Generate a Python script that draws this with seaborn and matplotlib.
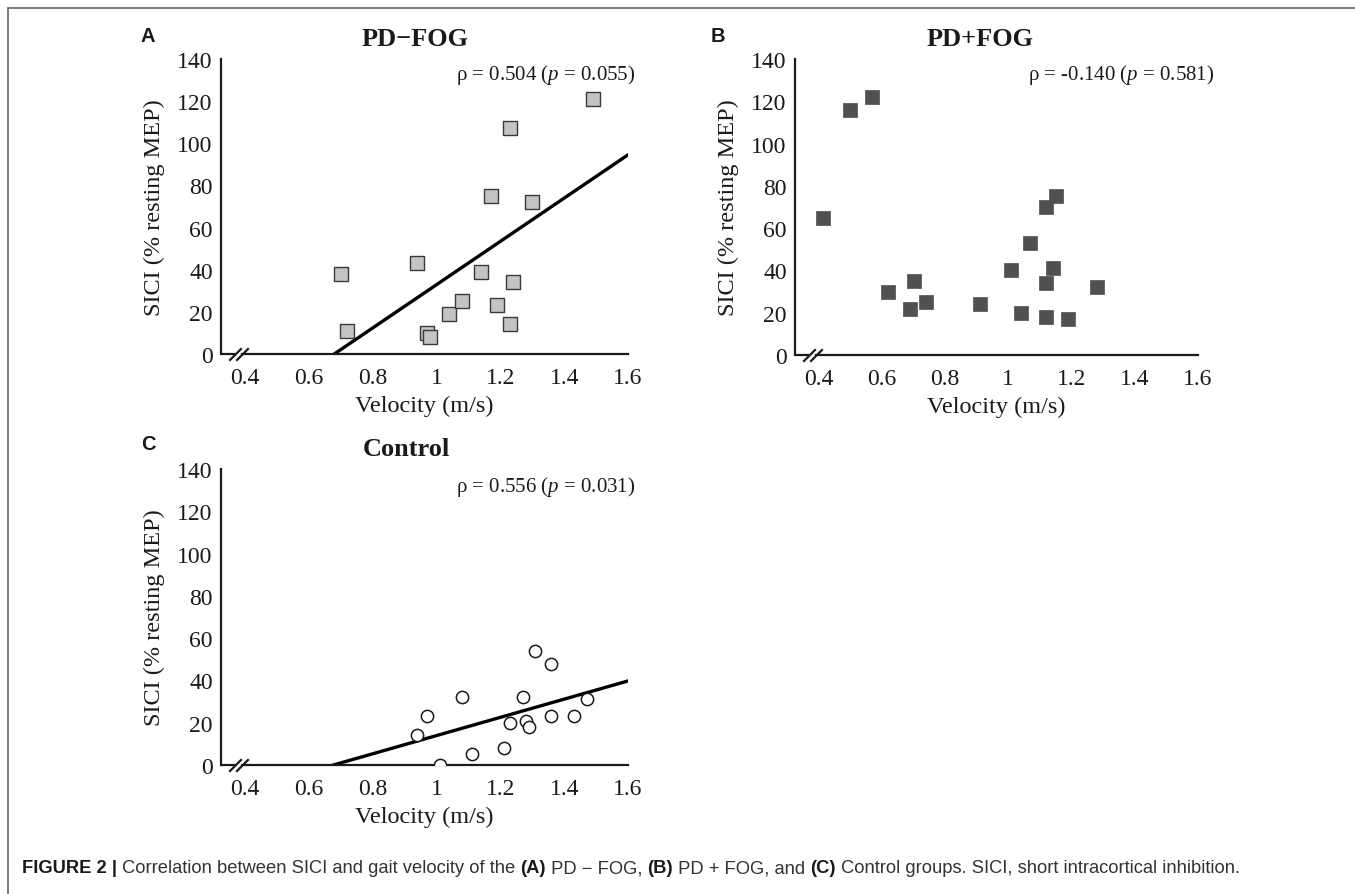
import matplotlib
matplotlib.use("Agg")
import matplotlib.pyplot as plt
from matplotlib.lines import Line2D
import pandas as pd
import seaborn as sns

# Valores (velocidade em m/s, SICI em % do MEP de repouso)
pd_sem_fog_vel = [0.70, 0.72, 0.94, 0.97, 0.98, 1.04, 1.08, 1.14, 1.17, 1.19, 1.23, 1.23, 1.24, 1.30, 1.49]
pd_sem_fog_sici = [38, 11, 43, 10, 8, 19, 25, 39, 75, 23, 107, 14, 34, 72, 121]

pd_com_fog_vel = [0.415, 0.50, 0.57, 0.62, 0.69, 0.70, 0.74, 0.91, 1.01, 1.04, 1.07, 1.12, 1.12, 1.12, 1.14, 1.15, 1.19, 1.28]
pd_com_fog_sici = [65, 116, 122, 30, 22, 35, 25, 24, 40, 20, 53, 70, 34, 18, 41, 75, 17, 32]

controle_vel = [0.94, 0.97, 1.01, 1.08, 1.11, 1.21, 1.23, 1.27, 1.28, 1.29, 1.31, 1.36, 1.36, 1.43, 1.47]
controle_sici = [14, 23, 0, 32, 5, 8, 20, 32, 21, 18, 54, 48, 23, 23, 31]

x_ticks = [0.4, 0.6, 0.8, 1.0, 1.2, 1.4, 1.6]
x_ticklabels = ["0.4", "0.6", "0.8", "1", "1.2", "1.4", "1.6"]
y_ticks = [0, 20, 40, 60, 80, 100, 120, 140]

titulos = ["PD\u2212FOG", "PD+FOG", "Control"]
letras = ["A", "B", "C"]
estatisticas = [r"ρ = 0.504 ($p$ = 0.055)", r"ρ = -0.140 ($p$ = 0.581)", r"ρ = 0.556 ($p$ = 0.031)"]

legenda = [("FIGURE 2 |", True),
           (" Correlation between SICI and gait velocity of the ", False),
           ("(A)", True), (" PD \u2212 FOG, ", False),
           ("(B)", True), (" PD + FOG, and ", False),
           ("(C)", True), (" Control groups. SICI, short intracortical inhibition.", False)]

sns.set_theme(style="white")
plt.rcParams['font.family'] = ['Liberation Serif', 'DejaVu Serif']
plt.rcParams['mathtext.fontset'] = 'custom'
plt.rcParams['mathtext.rm'] = 'Liberation Serif'
plt.rcParams['mathtext.it'] = 'Liberation Serif:italic'
plt.rcParams['text.color'] = '#1a1a1a'

COR = '#1a1a1a'
XMIN, XMAX = 0.325, 1.6


def preparar_eixo(ax):
    ax.set_xlim(XMIN, XMAX)
    ax.set_ylim(0, 140)


def formatar_eixo(ax, titulo, letra, estat, tx, sx, sy, lx, ly):
    ax.set_xlim(XMIN, XMAX)
    ax.set_ylim(0, 140)
    sns.despine(ax=ax)
    for lado in ['left', 'bottom']:
        ax.spines[lado].set_linewidth(1.6)
        ax.spines[lado].set_color(COR)
    # quebra do eixo x
    ax.spines['bottom'].set_bounds(0.392, XMAX)
    ax.plot([XMIN, 0.368], [0, 0], color=COR, lw=1.6, clip_on=False, solid_capstyle='butt')
    ax.plot([0.368, 0.392], [0, 0], linestyle='none', marker=[(-1, -1), (1, 1)],
            markersize=9, mew=1.6, color=COR, clip_on=False)
    ax.set_xticks(x_ticks)
    ax.set_xticklabels(x_ticklabels)
    ax.set_yticks(y_ticks)
    ax.tick_params(direction='in', length=5, width=1.4, color=COR, labelsize=17,
                   labelcolor=COR, pad=6)
    ax.tick_params(axis='x', pad=9.5)
    ax.xaxis.get_major_ticks()[0].tick1line.set_visible(False)
    ax.set_xlabel("Velocity (m/s)", fontsize=17.5, labelpad=5, color=COR)
    ax.set_ylabel("SICI (% resting MEP)", fontsize=17.5, labelpad=9, color=COR)
    ax.set_title(titulo, fontsize=19, fontweight='bold', x=tx, pad=10, color=COR)
    ax.text(sx, sy, estat, transform=ax.transAxes, ha='right', va='center', fontsize=15)
    ax.figure.text(lx, ly, letra, family='Liberation Sans', fontweight='bold',
                   fontsize=14.5, ha='center', va='center')


fig = plt.figure(figsize=(13.55, 8.95), dpi=100)
ax_a = fig.add_axes([0.1631, 0.6034, 0.3004, 0.3296])
ax_b = fig.add_axes([0.5867, 0.6022, 0.2974, 0.3307])
ax_c = fig.add_axes([0.1631, 0.1441, 0.3004, 0.3307])

dados_a = pd.DataFrame({'vel': pd_sem_fog_vel, 'sici': pd_sem_fog_sici})
dados_b = pd.DataFrame({'vel': pd_com_fog_vel, 'sici': pd_com_fog_sici})
dados_c = pd.DataFrame({'vel': controle_vel, 'sici': controle_sici})

# Painel A
preparar_eixo(ax_a)
sns.regplot(data=dados_a, x='vel', y='sici', ax=ax_a, ci=None, truncate=False, marker='s',
            scatter_kws=dict(s=90, facecolor='#c4c4c4', edgecolor='#3a3a3a', linewidths=1.0, alpha=1, zorder=3),
            line_kws=dict(color='black', lw=2.4, zorder=2))

# Painel B
preparar_eixo(ax_b)
sns.scatterplot(data=dados_b, x='vel', y='sici', ax=ax_b, marker='s', s=95,
                color='#505050', edgecolor='#505050', linewidth=0.5, zorder=3)

# Painel C
preparar_eixo(ax_c)
sns.regplot(data=dados_c, x='vel', y='sici', ax=ax_c, ci=None, truncate=False, marker='o',
            scatter_kws=dict(s=78, facecolor='white', edgecolor='#1a1a1a', linewidths=1.1, alpha=1, zorder=3),
            line_kws=dict(color='black', lw=2.4, zorder=2))

formatar_eixo(ax_a, titulos[0], letras[0], estatisticas[0], 0.477, 1.017, 0.949, 148 / 1355, 1 - 37 / 895)
formatar_eixo(ax_b, titulos[1], letras[1], estatisticas[1], 0.46, 1.04, 0.949, 718 / 1355, 1 - 37 / 895)
formatar_eixo(ax_c, titulos[2], letras[2], estatisticas[2], 0.455, 1.017, 0.943, 148 / 1355, 1 - 445 / 895)

# Moldura da figura
fig.add_artist(Line2D([8 / 1355, 1], [1 - 9 / 895, 1 - 9 / 895], transform=fig.transFigure, color='#666666', lw=1.2))
fig.add_artist(Line2D([8 / 1355, 8 / 1355], [0, 1 - 9 / 895], transform=fig.transFigure, color='#666666', lw=1.2))

# Legenda da figura, com partes em negrito
renderer = fig.canvas.get_renderer()
x = 22 / 1355
y = 1 - 869 / 895
for texto, negrito in legenda:
    t = fig.text(x, y, texto, family='Liberation Sans', fontsize=13.2,
                 fontweight='bold' if negrito else 'normal',
                 color='#1a1a1a' if negrito else '#333333', ha='left', va='center')
    bb = t.get_window_extent(renderer)
    x = bb.x1 / fig.bbox.width

fig.savefig('out.png', dpi=100)
